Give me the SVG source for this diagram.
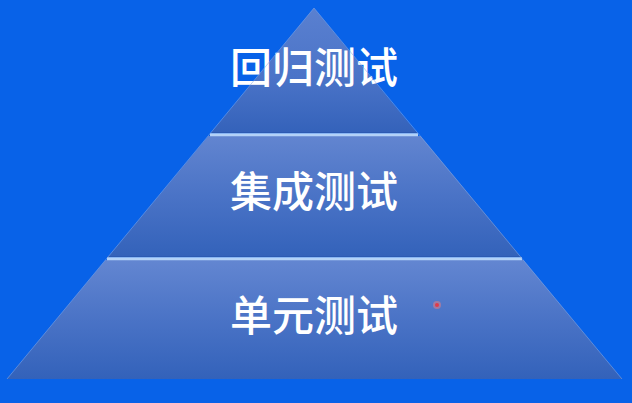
<svg xmlns="http://www.w3.org/2000/svg" width="632" height="403" viewBox="0 0 632 403">
  <defs>
    <linearGradient id="gTop" x1="0" y1="8" x2="0" y2="133" gradientUnits="userSpaceOnUse">
      <stop offset="0" stop-color="#5a80d0"/>
      <stop offset="0.55" stop-color="#4b74c8"/>
      <stop offset="1" stop-color="#3462ba"/>
    </linearGradient>
    <linearGradient id="gMid" x1="0" y1="136" x2="0" y2="257" gradientUnits="userSpaceOnUse">
      <stop offset="0" stop-color="#6285d0"/>
      <stop offset="0.5" stop-color="#4a73c6"/>
      <stop offset="1" stop-color="#3362ba"/>
    </linearGradient>
    <linearGradient id="gBot" x1="0" y1="260" x2="0" y2="379" gradientUnits="userSpaceOnUse">
      <stop offset="0" stop-color="#6386d1"/>
      <stop offset="0.5" stop-color="#4a73c6"/>
      <stop offset="1" stop-color="#3362ba"/>
    </linearGradient>
    <style>
      .label { font-family: "Noto Sans CJK SC", "Noto Sans", sans-serif; font-size: 42px; font-weight: 500; fill: #ffffff; text-anchor: middle; }
      .sep { stroke: #b3d2f7; stroke-width: 3; }
      .sepdark { stroke: #2c5ab2; stroke-width: 1; }
      .edge { fill: none; stroke: #86a9e6; stroke-width: 1; stroke-opacity: 0.55; }
    </style>
  </defs>
  <rect width="632" height="403" fill="#0862e8"/>

  <g id="layer-top">
    <polygon points="314,8 417.1,133 210.9,133" fill="url(#gTop)"/>
    <text class="label" x="314" y="83">回归测试</text>
  </g>

  <g id="layer-middle">
    <polygon points="208.4,136 420.6,136 520.9,257 108.1,257" fill="url(#gMid)"/>
    <text class="label" x="314" y="207">集成测试</text>
  </g>

  <g id="layer-bottom">
    <polygon points="105.6,260 523.4,260 622,379 7,379" fill="url(#gBot)"/>
    <text class="label" x="314" y="331">单元测试</text>
  </g>

  <g id="connectors">
    <line class="sepdark" x1="211" y1="132.5" x2="417" y2="132.5"/>
    <line class="sep" x1="210" y1="134.8" x2="418" y2="134.8"/>
    <line class="sepdark" x1="108" y1="256.5" x2="521" y2="256.5"/>
    <line class="sep" x1="107" y1="258.8" x2="522" y2="258.8"/>
    <polyline class="edge" points="7,379 314,8 622,379"/>
  </g>

  <circle cx="437" cy="305" r="4" fill="#f08080" fill-opacity="0.5"/>
  <circle cx="437" cy="305" r="2" fill="#e03a4a"/>
</svg>
